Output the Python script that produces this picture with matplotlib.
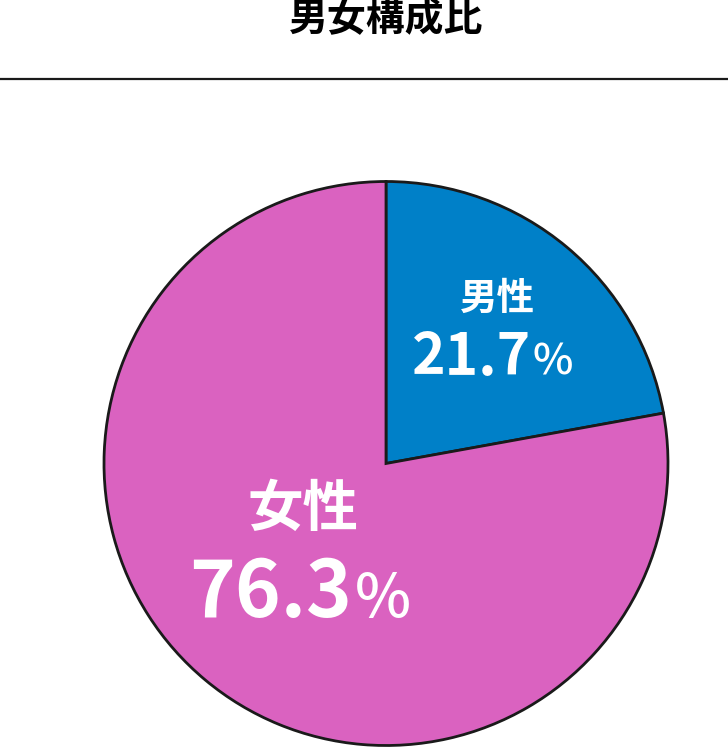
import matplotlib.pyplot as plt
from matplotlib.lines import Line2D

plt.rcParams['font.family'] = ['Noto Sans CJK JP', 'DejaVu Sans']

# Data
title = '男女構成比'
labels = ['男性', '女性']
values = [21.7, 76.3]
colors = ['#0080C8', '#DA62C0']

fig = plt.figure(figsize=(7.28, 7.5), dpi=100)

# pie centre at (386, 463.5) px, radius 282 px
r_px = 282
pad = 1.05
size = 2 * r_px * pad
cx, cy = 386, 463.5
ax = fig.add_axes([(cx - size / 2) / 728, (750 - cy - size / 2) / 750,
                   size / 728, size / 750])
ax.pie(values, colors=colors, startangle=90, counterclock=False,
       wedgeprops=dict(edgecolor='#1a1a1a', linewidth=2.0))
ax.set_xlim(-pad, pad)
ax.set_ylim(-pad, pad)
ax.set_aspect('equal')
ax.axis('off')

# labels
ax.text(0.397, 0.587, labels[0], color='white', fontsize=27, fontweight='bold',
        ha='center', va='center')
ax.text(0.514, 0.314, f'{values[0]:.1f}', color='white', fontsize=41,
        fontweight='bold', ha='right', va='baseline')
ax.text(0.521, 0.314, '%', color='white', fontsize=31, fontweight='medium',
        ha='left', va='baseline')

ax.text(-0.294, -0.165, labels[1], color='white', fontsize=40, fontweight='bold',
        ha='center', va='center')
ax.text(-0.121, -0.544, f'{values[1]:.1f}', color='white', fontsize=56,
        fontweight='bold', ha='right', va='baseline')
ax.text(-0.111, -0.544, '%', color='white', fontsize=43, fontweight='medium',
        ha='left', va='baseline')

# title and rule
fig.text(386 / 728, 1 - 20 / 750, title, fontsize=28, fontweight='bold',
         ha='center', va='center', color='black')
fig.add_artist(Line2D([0, 1], [1 - 79 / 750, 1 - 79 / 750],
                      transform=fig.transFigure, color='#1a1a1a', linewidth=1.6))

fig.savefig('out.png', dpi=100)
